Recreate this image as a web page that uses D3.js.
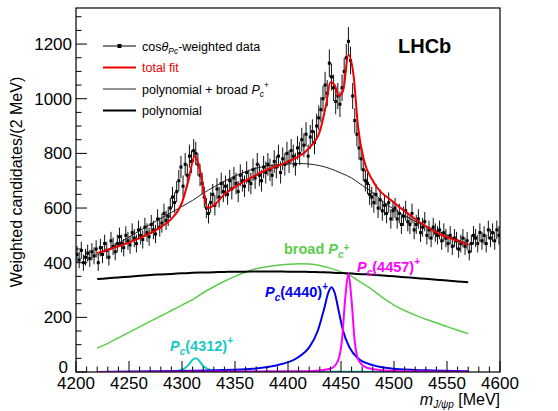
<!DOCTYPE html>
<html><head><meta charset="utf-8">
<script src="https://cdn.jsdelivr.net/npm/d3@7"></script>
<style>body{margin:0;background:#fff}svg{font-family:"Liberation Sans",Arial,sans-serif}</style>
</head><body><svg width="558" height="411"></svg>
<script>
// Data, 2 MeV bins from 4200
const dataStart = 4200;
const dataVals = [
430,410,445,400,420,435,415,440,425,450,
400,455,430,470,445,420,480,460,440,470,
495,470,455,500,480,465,510,490,470,520,
500,485,530,510,495,540,520,505,560,530,
545,580,555,570,600,640,620,660,700,750,
680,760,720,790,770,810,800,760,720,690,
640,600,580,620,650,610,670,640,690,660,
680,650,700,670,710,690,660,720,700,680,
730,700,690,740,710,760,720,700,750,730,
760,740,720,770,750,790,730,780,760,800,
770,810,790,760,820,800,850,830,870,790,
860,880,840,900,930,960,1000,1050,1020,1130,
1080,1040,990,1010,980,1040,1100,1150,1210,1140,
1010,920,870,820,780,740,700,690,650,640,
620,650,600,630,590,610,580,620,560,590,
600,560,580,540,570,590,550,540,580,520,
540,560,510,530,550,500,520,490,530,510,
500,520,480,510,490,470,500,460,490,480,
450,470,490,460,480,440,470,500,490,470,
510,480,500,470,520,490,510,480,520,500];
const errVals = dataVals.map(v => Math.sqrt(v) * 1.5);

// background components on 10 MeV grid
const bgX = d3.range(4220, 4571, 10);
const polyVals = [340,343,346,349,352,355,357,359,361,363,364,365,366,367,367,368,368,368,367,367,366,365,364,362,360,358,356,353,350,347,344,341,338,335,331,328];
const broadVals = [88,105,125,145,165,185,205,225,245,265,290,312,332,350,366,378,385,391,394,396,395,390,380,366,350,325,300,270,245,225,208,193,180,166,153,140];

// total fit
const fitX = [4220,4240,4260,4280,4290,4300,4306,4312,4318,4324,4330,4340,4360,4380,4400,4420,4430,4436,4440,4444,4448,4452,4457,4462,4466,4472,4480,4500,4520,4540,4560,4570];
const fitVals = [435,460,490,530,560,620,700,790,720,600,610,650,700,740,770,820,880,980,1060,1050,1010,1030,1160,1080,900,770,700,620,560,510,480,465];

// narrow states
const pc4312X = [4220,4290,4300,4306,4310,4313,4316,4320,4326,4335,4570];
const pc4312Vals = [0,2,8,25,45,50,42,22,8,2,0];
const pc4440X = [4220,4350,4390,4410,4420,4428,4434,4438,4441,4444,4448,4452,4458,4466,4480,4500,4530,4570];
const pc4440Vals = [0,8,25,55,90,150,230,290,310,290,220,150,90,50,25,12,6,3];
const pc4457X = [4220,4420,4440,4447,4451,4454,4457,4460,4463,4467,4475,4500,4570];
const pc4457Vals = [0,3,12,40,120,270,360,260,110,40,15,4,1];

const svg = d3.select('svg');
const L = 76, R = 500, T = 8, B = 372;
const x = d3.scaleLinear().domain([4200, 4600]).range([L, R]);
const y = d3.scaleLinear().domain([0, 1332]).range([B, T]);

const g = svg.append('g');
g.append('defs').append('clipPath').attr('id', 'c').append('rect')
  .attr('x', L).attr('y', T).attr('width', R - L).attr('height', B - T);
const plot = g.append('g').attr('clip-path', 'url(#c)');

function curve(xs, vs, color, w) {
  const pts = xs.map((d, i) => [x(d), y(vs[i])]);
  plot.append('path').attr('d', d3.line().curve(d3.curveMonotoneX)(pts))
    .attr('fill', 'none').attr('stroke', color).attr('stroke-width', w);
}
curve(bgX, broadVals, '#5ccc4c', 1.5);
curve(bgX, polyVals, '#000', 2);
curve(bgX, polyVals.map((v, i) => v + broadVals[i]), '#222', 1);
curve(pc4312X, pc4312Vals, '#18c8c8', 2);
curve(pc4440X, pc4440Vals, '#0000ee', 2);
curve(pc4457X, pc4457Vals, '#ff00ff', 2);

// data points
dataVals.forEach((v, i) => {
  const cx = x(dataStart + 2 * i + 1);
  plot.append('line').attr('x1', cx).attr('x2', cx)
    .attr('y1', y(v - errVals[i])).attr('y2', y(v + errVals[i]))
    .attr('stroke', '#111').attr('stroke-width', 1);
  plot.append('rect').attr('x', cx - 1.5).attr('y', y(v) - 1.5)
    .attr('width', 3).attr('height', 3).attr('fill', '#000');
});
curve(fitX, fitVals, '#ee0000', 2);

// frame
g.append('rect').attr('x', L).attr('y', T).attr('width', R - L).attr('height', B - T)
  .attr('fill', 'none').attr('stroke', '#000').attr('stroke-width', 1.2);

// ticks (inward)
d3.range(4200, 4601, 10).forEach(t => {
  const big = t % 50 === 0;
  g.append('line').attr('x1', x(t)).attr('x2', x(t)).attr('y1', B).attr('y2', B - (big ? 11 : 5.5))
    .attr('stroke', '#000');
});
d3.range(0, 1301, 50).forEach(t => {
  const big = t % 200 === 0;
  g.append('line').attr('x1', L).attr('x2', L + (big ? 11 : 5.5)).attr('y1', y(t)).attr('y2', y(t))
    .attr('stroke', '#000');
});
d3.range(4200, 4601, 50).forEach(t => {
  g.append('text').attr('x', x(t)).attr('y', B + 17).attr('text-anchor', 'middle')
    .attr('font-size', 17).text(t);
});
d3.range(0, 1201, 200).forEach(t => {
  g.append('text').attr('x', L - (t === 0 ? 8 : 4)).attr('y', y(t) + (t === 0 ? 1 : 6)).attr('text-anchor', 'end')
    .attr('font-size', 17).text(t);
});

// axis titles
g.append('text').attr('transform', `translate(22,${(T + B) / 2 - 8}) rotate(-90)`)
  .attr('text-anchor', 'middle').attr('font-size', 16).text('Weighted candidates/(2 MeV)');
const xt = g.append('text').attr('x', R).attr('y', 405).attr('text-anchor', 'end').attr('font-size', 16);
xt.append('tspan').attr('font-style', 'italic').text('m');
xt.append('tspan').attr('font-style', 'italic').attr('font-size', 10).attr('dy', 3).text('J/ψp');
xt.append('tspan').attr('dy', -3).text(' [MeV]');

g.append('text').attr('x', 398).attr('y', 53).attr('font-size', 20).attr('font-weight', 'bold').text('LHCb');

// legend
const leg = [
  {c: '#000', w: 1, t: 'data'}, {c: '#ee0000', w: 2, t: 'total fit'},
  {c: '#222', w: 1, t: 'poly'}, {c: '#000', w: 2, t: 'polynomial'}];
leg.forEach((d, i) => {
  const ly = 46 + i * 21.5;
  g.append('line').attr('x1', 103).attr('x2', 136).attr('y1', ly).attr('y2', ly)
    .attr('stroke', d.c).attr('stroke-width', d.w);
  const tx = g.append('text').attr('x', 142).attr('y', ly + 4.5).attr('font-size', 12.5)
    .attr('fill', i === 1 ? '#ee0000' : '#000');
  if (i === 0) {
    g.append('rect').attr('x', 117.5).attr('y', ly - 2).attr('width', 4).attr('height', 4);
    tx.append('tspan').text('cos');
    tx.append('tspan').attr('font-style', 'italic').text('θ');
    tx.append('tspan').attr('font-style', 'italic').attr('font-size', 8.5).attr('dy', 3).text('Pc');
    tx.append('tspan').attr('dy', -3).text('-weighted data');
  } else if (i === 2) {
    tx.append('tspan').text('polynomial + broad ');
    tx.append('tspan').attr('font-style', 'italic').text('P');
    tx.append('tspan').attr('font-style', 'italic').attr('font-size', 8.5).attr('dy', 3).text('c');
    tx.append('tspan').attr('font-size', 8.5).attr('dy', -9).text('+');
  } else tx.text(d.t);
});

// state labels
function label(px, py, color, pre, name) {
  const t = g.append('text').attr('x', px).attr('y', py).attr('font-size', 14.5)
    .attr('font-weight', 'bold').attr('fill', color);
  if (pre) t.append('tspan').text(pre);
  t.append('tspan').attr('font-style', 'italic').text('P');
  t.append('tspan').attr('font-style', 'italic').attr('font-size', 10).attr('dy', 4).text('c');
  t.append('tspan').attr('dy', -4).text(name);
  t.append('tspan').attr('font-size', 10).attr('dy', -7).text('+');
}
label(284, 254, '#5ccc4c', 'broad ', '');
label(357, 272, '#ff00ff', null, '(4457)');
label(265, 297, '#0000ee', null, '(4440)');
label(170, 351, '#18c8c8', null, '(4312)');
</script></body></html>
